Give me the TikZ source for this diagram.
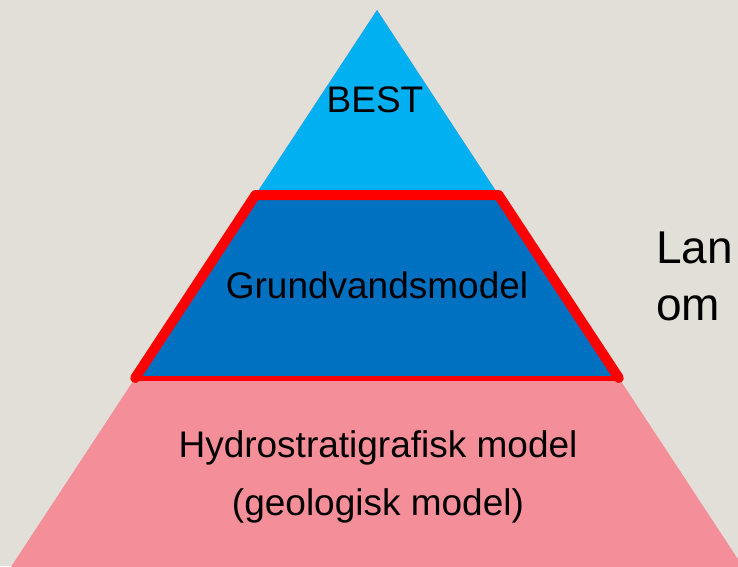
\documentclass[tikz,border=0pt]{standalone}
\usepackage{fontspec}
\setmainfont{Liberation Sans}
\definecolor{paper}{HTML}{E1DFD8}
\definecolor{capblue}{HTML}{00B0F0}
\definecolor{midblue}{HTML}{0070C0}
\definecolor{basepink}{HTML}{F48F99}
\definecolor{rimred}{HTML}{FF0000}
\begin{document}
\begin{tikzpicture}[x=1pt,y=-1pt,
  tiertext/.style={inner sep=0pt, anchor=base, font=\fontsize{37}{44}\selectfont},
  sidetext/.style={inner sep=0pt, anchor=base west, font=\fontsize{46}{55}\selectfont}]
\useasboundingbox (0,0) rectangle (738,566);
\clip (0,0) rectangle (738,566);
\fill[paper] (0,0) rectangle (738,566);
% whole pyramid, base tier colour
\fill[basepink] (377,10) -- (-20,614) -- (774,614) -- cycle;
% middle tier
\fill[midblue] (258.7,190) -- (495.3,190) -- (620.1,380) -- (133.9,380) -- cycle;
% top tier
\fill[capblue] (377,10) -- (495.3,190) -- (258.7,190) -- cycle;
% red frame round the middle tier
\draw[rimred, line width=10pt, line join=round, line cap=round]
  (135.2,378) -- (255.5,195) -- (498.5,195) -- (618.8,378);
\draw[rimred, line width=5pt] (135.2,378.5) -- (618.8,378.5);
% tier labels
\node[tiertext] (best) at (375,112) {BEST};
\node[tiertext] (grund) at (377,298) {Grundvandsmodel};
\node[tiertext] (hydroA) at (378,457) {Hydrostratigrafisk model};
\node[tiertext] (hydroB) at (378,515) {(geologisk model)};
% side text
\node[sidetext] (lan) at (656,263) {Lan};
\node[sidetext] (om) at (656,320) {om};
\end{tikzpicture}
\end{document}
